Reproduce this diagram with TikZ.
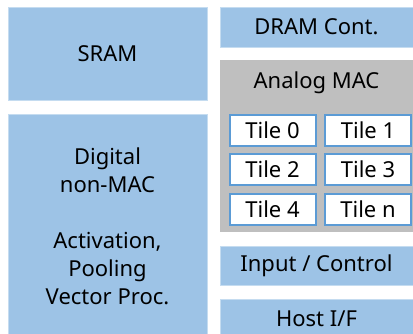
\documentclass[tikz,border=0pt]{standalone}
\usepackage{fontspec}
\setmainfont{Noto Sans}
\definecolor{blockblue}{HTML}{9DC3E6}
\definecolor{blockedge}{HTML}{C5DCF0}
\definecolor{macgray}{HTML}{BFBFBF}
\definecolor{tileedge}{HTML}{5B9BD5}
\begin{document}
\begin{tikzpicture}[x=1pt,y=-1pt,
    block/.style={fill=blockblue,draw=blockedge,line width=1pt,align=center,
      inner sep=0pt,font=\fontsize{22}{28}\selectfont},
    tile/.style={fill=white,draw=tileedge,line width=2pt,inner sep=0pt,
      minimum width=86pt,minimum height=31pt,font=\fontsize{22}{24}\selectfont}]
        \useasboundingbox (0,0) rectangle (413,333);
        \clip (0,0) rectangle (413,333);
        % left column
        \node[block,minimum width=199pt,minimum height=93pt] (sram) at (107.5,53.5) {SRAM};
        \node[block,minimum width=199pt,minimum height=224pt] (digital) at (107.5,226)
            {Digital\\non-MAC\\[28pt]Activation,\\Pooling\\Vector Proc.};
        % right column
        \node[block,minimum width=193pt,minimum height=40pt] (dram) at (316.5,27) {DRAM Cont.};
        \node[fill=macgray,inner sep=0pt,minimum width=193pt,minimum height=172pt] (amac) at (316.5,146) {};
        \node[font=\fontsize{22}{24}\selectfont] (amaclabel) at (316.5,83) {Analog MAC};
        \node[tile] (tile0) at (272.5,130) {Tile 0};
        \node[tile] (tile1) at (368,130) {Tile 1};
        \node[tile] (tile2) at (272.5,169.5) {Tile 2};
        \node[tile] (tile3) at (368,169.5) {Tile 3};
        \node[tile] (tile4) at (272.5,209.5) {Tile 4};
        \node[tile] (tilen) at (368,209.5) {Tile n};
        \node[block,minimum width=193pt,minimum height=39pt] (inctrl) at (316.5,265.5) {Input / Control};
        \node[block,minimum width=193pt,minimum height=39pt] (hostif) at (316.5,318.5) {Host I/F};
\end{tikzpicture}
\end{document}
